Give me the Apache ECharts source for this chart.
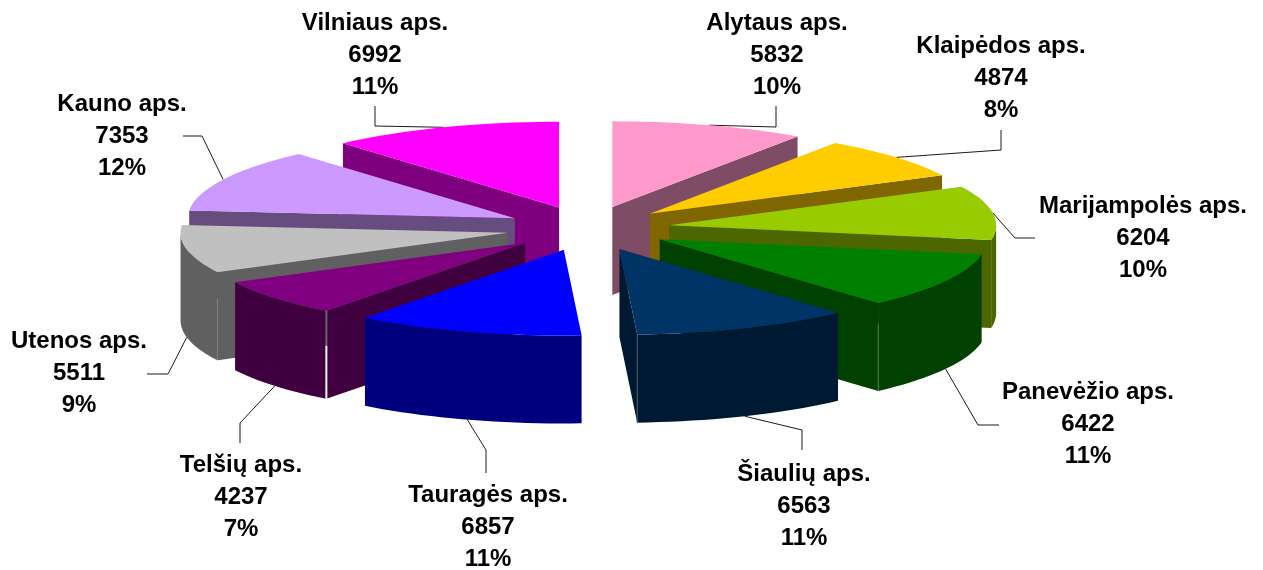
<!DOCTYPE html>
<html>
<head>
<meta charset="utf-8">
<title>Apskritys</title>
<style>
  html, body { margin: 0; padding: 0; background: #fff; }
  #main { width: 1263px; height: 570px; }
</style>
<script src="https://cdn.jsdelivr.net/npm/echarts@6/dist/echarts.min.js"></script>
</head>
<body>
<div id="main"></div>
<script>
// clockwise from 12 o'clock
var categories = ['Alytaus aps.', 'Klaipėdos aps.', 'Marijampolės aps.', 'Panevėžio aps.', 'Šiaulių aps.', 'Tauragės aps.', 'Telšių aps.', 'Utenos aps.', 'Kauno aps.', 'Vilniaus aps.'];
var values = [5832, 4874, 6204, 6422, 6563, 6857, 4237, 5511, 7353, 6992];
var colors = ['#FF99CC', '#FFCC00', '#99CC00', '#008000', '#003366', '#0000FF', '#800080', '#C0C0C0', '#CC99FF', '#FF00FF'];

// label layout: [text centre x, text centre y, elbow x, elbow y, end x, end y]
var labelLayout = [
  [777, 55, 776, 127, 776, 106],
  [1001, 78, 1001, 150, 1001, 130],
  [1143, 238, 1015, 238, 1035, 238],
  [1088, 424, 978, 425, 999, 425],
  [804, 506, 802, 430, 802, 450],
  [488, 527, 486, 450, 486, 473],
  [241, 497, 240, 423, 240, 443],
  [79, 373, 168, 374, 147, 374],
  [122, 136, 202, 136, 183, 136],
  [375, 55, 375, 126, 375, 106]
];

// fake 3D pie geometry
var cx = 588, cy = 228.4;
var radius = 327, tilt = 0.262, depth = 88;
var explodeX = 82, explodeY = 22.4;

var total = values.reduce(function (a, b) { return a + b; }, 0);
var rad = Math.PI / 180;
var slices = [];
var cum = 0;
values.forEach(function (v, i) {
  var a0 = echarts.number.linearMap(cum, [0, total], [0, 360]);
  cum += v;
  var a1 = echarts.number.linearMap(cum, [0, total], [0, 360]);
  var mid = (a0 + a1) / 2;
  slices.push({
    index: i,
    a0: a0, a1: a1, mid: mid,
    tipX: cx + explodeX * Math.sin(mid * rad),
    tipY: cy - explodeY * Math.cos(mid * rad)
  });
});

function rimPoint(s, angle, h) {
  return [
    s.tipX + radius * Math.sin(angle * rad),
    s.tipY - radius * tilt * Math.cos(angle * rad) + (h || 0)
  ];
}

function arcPoints(s, from, to, h) {
  var pts = [];
  var n = Math.max(2, Math.ceil((to - from) / 2));
  for (var k = 0; k <= n; k++) {
    pts.push(rimPoint(s, from + (to - from) * k / n, h));
  }
  return pts;
}

// side walls are the top colour at half brightness
function halfTone(hex) {
  var n = parseInt(hex.slice(1), 16);
  return 'rgb(' + ((n >> 16) >> 1) + ',' + (((n >> 8) & 255) >> 1) + ',' + ((n & 255) >> 1) + ')';
}

function cutFace(s, angle, fill) {
  return {
    type: 'polygon',
    shape: { points: [[s.tipX, s.tipY], rimPoint(s, angle), rimPoint(s, angle, depth), [s.tipX, s.tipY + depth]] },
    style: { fill: fill }
  };
}

function seam(s, angle, from, to, color, width) {
  var p = rimPoint(s, angle);
  return {
    type: 'line',
    shape: { x1: p[0], y1: p[1] + from, x2: p[0], y2: p[1] + to },
    style: { stroke: color, lineWidth: width }
  };
}

function renderSlice(params, api) {
  var s = slices[api.value(0)];
  var fill = colors[s.index];
  var wall = halfTone(fill);
  var children = [];

  // walls that face the viewer
  if (Math.sin(s.a0 * rad) < 0) children.push(cutFace(s, s.a0, wall));
  if (Math.sin(s.a1 * rad) > 0) children.push(cutFace(s, s.a1, wall));

  var from = Math.max(s.a0, 90), to = Math.min(s.a1, 270);
  if (to > from) {
    children.push({
      type: 'polygon',
      shape: { points: arcPoints(s, from, to, 0).concat(arcPoints(s, from, to, depth).reverse()) },
      style: { fill: wall }
    });
  }

  children.push({
    type: 'polygon',
    shape: { points: [[s.tipX, s.tipY]].concat(arcPoints(s, s.a0, s.a1, 0)) },
    style: { fill: fill }
  });

  // light joints between the cut face and the rim
  var name = categories[s.index];
  if (name === 'Panevėžio aps.') children.push(seam(s, s.a1, 22, depth, '#4f7a4f', 1));
  if (name === 'Šiaulių aps.') children.push(seam(s, s.a1, 0, depth, '#44586c', 1));
  if (name === 'Utenos aps.') children.push(seam(s, s.a0, 30, depth, '#808080', 1));
  if (name === 'Telšių aps.') {
    children.push(seam(s, s.a0, 0, 35, '#666666', 2));
    children.push(seam(s, s.a0, 35, depth, '#ffffff', 2));
  }

  return { type: 'group', children: children };
}

function renderLabel(params, api) {
  var s = slices[api.value(0)];
  var l = labelLayout[s.index];
  var back = Math.cos(s.mid * rad) >= 0;
  var start = rimPoint(s, s.mid, back ? 0 : depth);
  var pct = Math.round(values[s.index] / total * 100);
  return {
    type: 'group',
    children: [{
      type: 'polyline',
      shape: { points: [start, [l[2], l[3]], [l[4], l[5]]] },
      style: { fill: null, stroke: '#1a1a1a', lineWidth: 1 }
    }, {
      type: 'text',
      style: {
        x: l[0], y: l[1],
        text: categories[s.index] + '\n' + values[s.index] + '\n' + pct + '%',
        fill: '#000',
        font: 'bold 24px "Liberation Sans", Arial, sans-serif',
        lineHeight: 32,
        align: 'center',
        verticalAlign: 'middle'
      }
    }]
  };
}

// back slices first so the nearer ones cover them
var paintOrder = slices.slice().sort(function (a, b) {
  return Math.cos(b.mid * rad) - Math.cos(a.mid * rad);
}).map(function (s) { return [s.index, values[s.index]]; });

var chart = echarts.init(document.getElementById('main'), null, { renderer: 'canvas' });
chart.setOption({
  backgroundColor: '#ffffff',
  animation: false,
  series: [
    {
      type: 'custom',
      coordinateSystem: 'none',
      silent: true,
      data: paintOrder,
      renderItem: renderSlice,
      z: 2
    },
    {
      type: 'custom',
      coordinateSystem: 'none',
      silent: true,
      data: paintOrder,
      renderItem: renderLabel,
      z: 1
    }
  ]
});
</script>
</body>
</html>
